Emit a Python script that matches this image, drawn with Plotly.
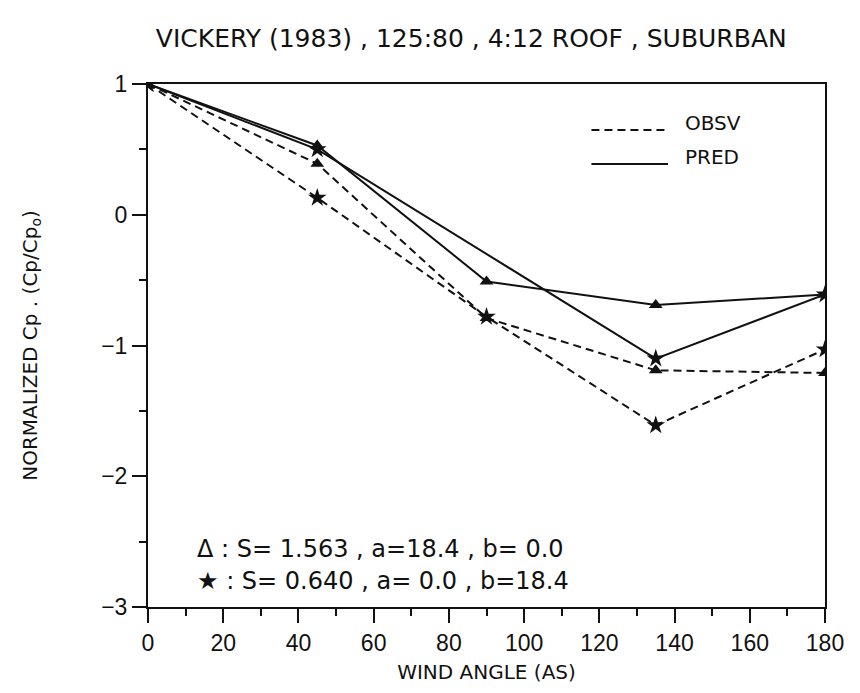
import plotly.graph_objects as go

# Wind angles (degrees) and normalized pressure coefficients Cp/Cpo
angles = [0, 45, 90, 135, 180]

obsv_tri = [1.0, 0.39, -0.79, -1.19, -1.21]
obsv_star = [1.0, 0.13, -0.78, -1.61, -1.03]
pred_tri = [1.0, 0.53, -0.51, -0.69, -0.61]
pred_star = [1.0, 0.50, None, -1.10, -0.61]

x_ticks = [0, 20, 40, 60, 80, 100, 120, 140, 160, 180]
y_ticks = [1, 0, -1, -2, -3]

title_text = "VICKERY (1983) , 125:80 , 4:12 ROOF , SUBURBAN"
note_tri = "\u0394 : S= 1.563 , a=18.4 , b= 0.0"
note_star = "\u2605 : S= 0.640 , a= 0.0 , b=18.4"

FONT = "DejaVu Sans"
TICKFONT = "Liberation Sans"
INK = "#111111"

fig = go.Figure()


def add_series(y, dashed, symbol, size):
    fig.add_trace(go.Scatter(
        x=angles, y=y, mode="lines+markers", connectgaps=True,
        line=dict(color=INK, width=2.0,
                  dash="8px,5px" if dashed else "solid"),
        marker=dict(symbol=symbol, size=size, color=INK),
        showlegend=False, hoverinfo="skip",
    ))


add_series(obsv_tri, True, "triangle-up", 12)
add_series(obsv_star, True, "star", 14)
add_series(pred_tri, False, "triangle-up", 12)
add_series(pred_star, False, "star", 14)

# Legend samples: dashed = observed, solid = predicted
legend_rows = [("OBSV", "8px,5px", 0.912), ("PRED", "solid", 0.847)]
for label, dash, yp in legend_rows:
    fig.add_shape(type="line", xref="paper", yref="paper",
                  x0=0.655, x1=0.768, y0=yp, y1=yp,
                  line=dict(color=INK, width=2, dash=dash))
    fig.add_annotation(xref="paper", yref="paper", x=0.79, y=yp + 0.014,
                       text=label, showarrow=False, xanchor="left",
                       yanchor="middle",
                       font=dict(family=FONT, size=20, color=INK))

for txt, yp in [(note_tri, 0.11), (note_star, 0.05)]:
    fig.add_annotation(xref="paper", yref="paper", x=0.07, y=yp,
                       text=txt, showarrow=False, xanchor="left",
                       yanchor="middle",
                       font=dict(family=FONT, size=24, color=INK))

fig.update_layout(
    width=860, height=693,
    margin=dict(l=148, r=35, t=84, b=86),
    paper_bgcolor="white", plot_bgcolor="white",
    font=dict(family=FONT, color=INK),
    title=dict(text=title_text, x=0.548, xref="container", xanchor="center",
               y=0.945, yref="container", yanchor="middle",
               font=dict(family=FONT, size=25, color=INK)),
)

fig.update_xaxes(
    range=[0, 180], tickvals=x_ticks, ticktext=[str(v) for v in x_ticks],
    ticks="outside", ticklen=14, tickwidth=2, tickcolor=INK,
    minor=dict(dtick=10, ticks="outside", ticklen=7, tickwidth=2, tickcolor=INK),
    showline=True, linecolor=INK, linewidth=2, mirror=True,
    showgrid=False, zeroline=False,
    tickfont=dict(family=TICKFONT, size=23, color=INK),
    title=dict(text="WIND ANGLE (AS)", standoff=10,
               font=dict(family=FONT, size=20, color=INK)),
)
fig.update_yaxes(
    range=[-3, 1], tickvals=y_ticks,
    ticktext=["1", "0", "\u22121", "\u22122", "\u22123"],
    ticks="outside", ticklen=14, tickwidth=2, tickcolor=INK,
    minor=dict(dtick=0.5, ticks="outside", ticklen=7, tickwidth=2, tickcolor=INK),
    showline=True, linecolor=INK, linewidth=2, mirror=True,
    showgrid=False, zeroline=False,
    tickfont=dict(family=TICKFONT, size=23, color=INK),
    title=dict(text="NORMALIZED Cp . (Cp/Cp<sub>o</sub>)", standoff=58,
               font=dict(family=FONT, size=20, color=INK)),
)

fig.write_html("out.html")
